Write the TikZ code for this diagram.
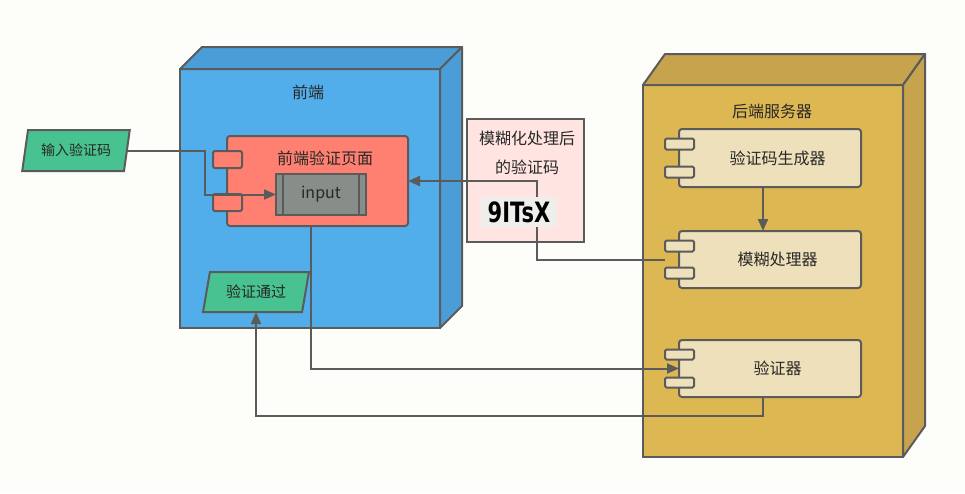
\documentclass[tikz,border=0pt]{standalone}
\usepackage{fontspec}
\newfontfamily\cjk{Noto Sans CJK SC}
\newfontfamily\capfont{DejaVu Sans}
\usetikzlibrary{arrows.meta,calc,shapes.geometric}
\definecolor{bgc}{RGB}{253,253,250}
\definecolor{linec}{RGB}{91,91,91}
\definecolor{feblue}{RGB}{82,174,235}
\definecolor{feside}{RGB}{74,157,214}
\definecolor{salmonc}{RGB}{255,128,112}
\definecolor{greenc}{RGB}{72,194,144}
\definecolor{inputc}{RGB}{135,141,137}
\definecolor{beyellow}{RGB}{221,183,82}
\definecolor{beside}{RGB}{198,163,76}
\definecolor{beige}{RGB}{238,224,186}
\definecolor{pinkc}{RGB}{255,228,225}
\definecolor{textc}{RGB}{40,40,40}
\definecolor{capbg}{RGB}{238,238,236}
\tikzset{
  box/.style={draw=linec, line width=2pt, outer sep=0pt, inner sep=0pt},
  lbl/.style={font=\cjk\fontsize{16}{18}\selectfont, text=textc, inner sep=0pt},
  para/.style={box, fill=greenc, trapezium, trapezium left angle=72, trapezium right angle=108, trapezium stretches=true, font=\cjk\fontsize{14}{16}\selectfont, text=textc},
  conn/.style={draw=linec, line width=2pt, -{Triangle[length=12pt,width=10pt]}},
  plain/.style={draw=linec, line width=2pt}
}
% name, cx, cy, w, h, port dy, port h, fill
\newcommand{\umlcomp}[8]{%
  \node[inner sep=0pt, outer sep=0pt, minimum width=#4, minimum height=#5] (#1) at (#2,#3) {};
  \draw[box, fill=#8, rounded corners=3pt] ($(#1.north west)+(14,0)$) rectangle (#1.south east);
  \node[box, fill=#8, rounded corners=1.5pt, minimum width=29, minimum height=#7] (#1-p1) at ($(#1.west)+(14.5,-#6)$) {};
  \node[box, fill=#8, rounded corners=1.5pt, minimum width=29, minimum height=#7] (#1-p2) at ($(#1.west)+(14.5,#6)$) {};
  \coordinate (#1-in) at ($(#1.west)+(14,0)$);
}
\begin{document}
\begin{tikzpicture}[x=1pt,y=-1pt]
\useasboundingbox[fill=bgc] (0,0) rectangle (965,493);

% front-end node
\node[box, fill=feblue, minimum width=260, minimum height=259] (fe) at (310,198.5) {};
\draw[box, fill=feside, line join=round] (fe.north west) -- ++(22,-22) -- ++(260,0) -- (fe.north east) -- cycle;
\draw[box, fill=feside, line join=round] (fe.north east) -- ++(22,-22) -- ++(0,259) -- (fe.south east) -- cycle;
\node[lbl] (fel) at (308,92) {前端};

\umlcomp{page}{310.5}{181}{195}{90}{21.5}{17}{salmonc}
\node[lbl] (pagel) at (325,158) {前端验证页面};
\node[box, fill=inputc, minimum width=90, minimum height=41, font=\cjk\fontsize{16}{18}\selectfont, text=textc] (inp) at (321,194.5) {input};
\draw[plain] ($(inp.north west)+(7,0)$) -- ($(inp.south west)+(7,0)$);
\draw[plain] ($(inp.north east)+(-7,0)$) -- ($(inp.south east)+(-7,0)$);

\node[para, minimum width=106, minimum height=40, font=\cjk\fontsize{15}{16}\selectfont] (ok) at (256,292) {验证通过};

% back-end node
\node[box, fill=beyellow, minimum width=260, minimum height=372] (be) at (773,271) {};
\draw[box, fill=beside, line join=round] (be.north west) -- ++(22,-31) -- ++(260,0) -- (be.north east) -- cycle;
\draw[box, fill=beside, line join=round] (be.north east) -- ++(22,-31) -- ++(0,372) -- (be.south east) -- cycle;
\node[lbl] (bel) at (772,111) {后端服务器};

\umlcomp{gen}{763}{158}{196}{58}{14}{11}{beige}
\node[lbl] (genl) at (777.5,158) {验证码生成器};
\umlcomp{fz}{763}{259.5}{196}{57}{13.5}{11}{beige}
\node[lbl] (fzl) at (777.5,260) {模糊处理器};
\umlcomp{vf}{763}{368.5}{196}{57}{14}{10}{beige}
\node[lbl] (vfl) at (777.5,368) {验证器};

% blurred captcha box
\node[box, fill=pinkc, minimum width=117, minimum height=123] (pk) at (525.5,180.5) {};
\node[lbl] (pkl1) at (527,139) {模糊化处理后};
\node[lbl] (pkl2) at (527,167) {的验证码};

% input parallelogram
\node[para, minimum width=108, minimum height=41] (in1) at (76,150.5) {输入验证码};

% connectors
\draw[conn] (in1.east) -- ++(78,0) |- (inp.west);
\draw[conn] (gen.south) -- (fz.north);
\draw[conn] (fz.west) -- ++(-128,0) |- (page.east);
\draw[conn] (page.south) |- (vf-in);
\draw[conn] (vf.south) -- ++(0,19) -| (ok.south);

% captcha image
\node[inner sep=0pt, minimum width=76, minimum height=30, fill=capbg] (cap) at (519,212)
  {\capfont\bfseries\fontsize{28}{28}\selectfont\scalebox{0.75}[1]{9ITsX}};
\end{tikzpicture}
\end{document}
